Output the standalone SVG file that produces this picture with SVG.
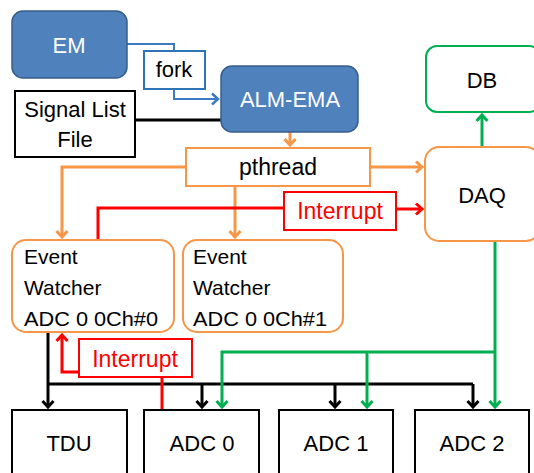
<svg xmlns="http://www.w3.org/2000/svg" width="534" height="473" viewBox="0 0 534 473">
<style>
text{font-family:"Liberation Sans",Arial,sans-serif;font-size:22px;fill:#000}
.c{text-anchor:middle}
.w{fill:#fff}
.r{fill:#FF0000;font-size:23px}
.blue{fill:#4F81BD;stroke:#385D8A;stroke-width:1.5}
.box{fill:#fff;stroke:#000;stroke-width:2}
.or{fill:#fff;stroke:#F79646;stroke-width:2}
.gr{fill:#fff;stroke:#00B050;stroke-width:2}
.rb{fill:#fff;stroke:#FF0000;stroke-width:2}
.fb{fill:#fff;stroke:#2E75B6;stroke-width:2}
.ln{fill:none;stroke-width:3;stroke-linejoin:miter}
.ew{font-size:21px}
</style>
<defs>
<marker id="aB" markerUnits="userSpaceOnUse" markerWidth="14" markerHeight="14" refX="8" refY="7" orient="auto"><path d="M2,1.5 L8,7 L2,12.5" fill="none" stroke="#3B7BC4" stroke-width="2.5"/></marker>
<marker id="aO" markerUnits="userSpaceOnUse" markerWidth="14" markerHeight="14" refX="8" refY="7" orient="auto"><path d="M2,1.5 L8,7 L2,12.5" fill="none" stroke="#F79646" stroke-width="3"/></marker>
<marker id="aR" markerUnits="userSpaceOnUse" markerWidth="14" markerHeight="14" refX="8" refY="7" orient="auto"><path d="M2,1.5 L8,7 L2,12.5" fill="none" stroke="#FF0000" stroke-width="3"/></marker>
<marker id="aG" markerUnits="userSpaceOnUse" markerWidth="14" markerHeight="14" refX="8" refY="7" orient="auto"><path d="M2,1.5 L8,7 L2,12.5" fill="none" stroke="#00B050" stroke-width="3"/></marker>
<marker id="aK" markerUnits="userSpaceOnUse" markerWidth="14" markerHeight="14" refX="8" refY="7" orient="auto"><path d="M2,1.5 L8,7 L2,12.5" fill="none" stroke="#000" stroke-width="3"/></marker>
</defs>
<g id="connectors">
<path class="ln" d="M127,44 H174 V51" stroke="#3B7BC4" style="stroke-width:2"/>
<path class="ln" d="M174,89 V99 H218" stroke="#3B7BC4" style="stroke-width:2" marker-end="url(#aB)"/>
<path class="ln" d="M135,120 H221" stroke="#000"/>
<path class="ln" d="M290,132 V145" stroke="#F79646" marker-end="url(#aO)"/>
<path class="ln" d="M186,167 H62 V237" stroke="#F79646" marker-end="url(#aO)"/>
<path class="ln" d="M235,186 V237" stroke="#F79646" marker-end="url(#aO)"/>
<path class="ln" d="M370,167 H422" stroke="#F79646" marker-end="url(#aO)"/>
<path class="ln" d="M482,147 V115" stroke="#00B050" marker-end="url(#aG)"/>
<path class="ln" d="M98,240 V208 H284" stroke="#FF0000"/>
<path class="ln" d="M396,209 H422" stroke="#FF0000" marker-end="url(#aR)"/>
<path class="ln" d="M48,332 V407" stroke="#000" marker-end="url(#aK)"/>
<path class="ln" d="M48,384 H473" stroke="#000"/>
<path class="ln" d="M202,384 V407" stroke="#000" marker-end="url(#aK)"/>
<path class="ln" d="M335,384 V407" stroke="#000" marker-end="url(#aK)"/>
<path class="ln" d="M473,384 V407" stroke="#000" marker-end="url(#aK)"/>
<path class="ln" d="M162,410 V377" stroke="#FF0000"/>
<path class="ln" d="M79,372 H62 V335" stroke="#FF0000" marker-end="url(#aR)"/>
<path class="ln" d="M495,241 V407" stroke="#00B050" marker-end="url(#aG)"/>
<path class="ln" d="M495,352 H222 V407" stroke="#00B050" marker-end="url(#aG)"/>
<path class="ln" d="M367,352 V407" stroke="#00B050" marker-end="url(#aG)"/>
</g>
<g id="em"><rect class="blue" x="12" y="11" width="115" height="67" rx="11"/><text class="c w" x="69" y="53">EM</text></g>
<g id="fork"><rect class="fb" x="144" y="51" width="61" height="38"/><text class="c" x="174" y="77">fork</text></g>
<g id="alm-ema"><rect class="blue" x="221" y="66" width="137" height="66" rx="11"/><text class="c w" x="290" y="107">ALM-EMA</text></g>
<g id="signal-list-file"><rect class="box" x="15" y="91" width="120" height="66"/><text class="c" x="75" y="117">Signal List</text><text class="c" x="75" y="147">File</text></g>
<g id="pthread"><rect class="or" x="186" y="148" width="184" height="38"/><text class="c" x="278" y="175" style="font-size:23px">pthread</text></g>
<g id="db"><rect class="gr" x="426" y="46" width="114" height="66" rx="11"/><text class="c" x="482" y="88">DB</text></g>
<g id="daq"><rect class="or" x="425" y="147" width="115" height="94" rx="14"/><text class="c" x="482" y="203">DAQ</text></g>
<g id="interrupt1"><rect class="rb" x="284" y="192" width="112" height="38"/><text class="c r" x="340" y="219">Interrupt</text></g>
<g id="event-watcher-0"><rect class="or" x="12" y="240" width="162" height="92" rx="14"/><text class="ew" x="24" y="264">Event</text><text class="ew" x="24" y="295">Watcher</text><text class="ew" x="24" y="326" textLength="134" lengthAdjust="spacingAndGlyphs">ADC 0 0Ch#0</text></g>
<g id="event-watcher-1"><rect class="or" x="183" y="240" width="160" height="92" rx="14"/><text class="ew" x="193" y="264">Event</text><text class="ew" x="193" y="295">Watcher</text><text class="ew" x="193" y="326" textLength="134" lengthAdjust="spacingAndGlyphs">ADC 0 0Ch#1</text></g>
<g id="interrupt2"><rect class="rb" x="79" y="339" width="113" height="38"/><text class="c r" x="135" y="367">Interrupt</text></g>
<g id="tdu"><rect class="box" x="12" y="410" width="115" height="72"/><text class="c" x="69" y="451">TDU</text></g>
<g id="adc0"><rect class="box" x="144" y="410" width="115" height="72"/><text class="c" x="202" y="451">ADC 0</text></g>
<g id="adc1"><rect class="box" x="279" y="410" width="114" height="72"/><text class="c" x="336" y="451">ADC 1</text></g>
<g id="adc2"><rect class="box" x="415" y="410" width="114" height="72"/><text class="c" x="472" y="451">ADC 2</text></g>
</svg>
